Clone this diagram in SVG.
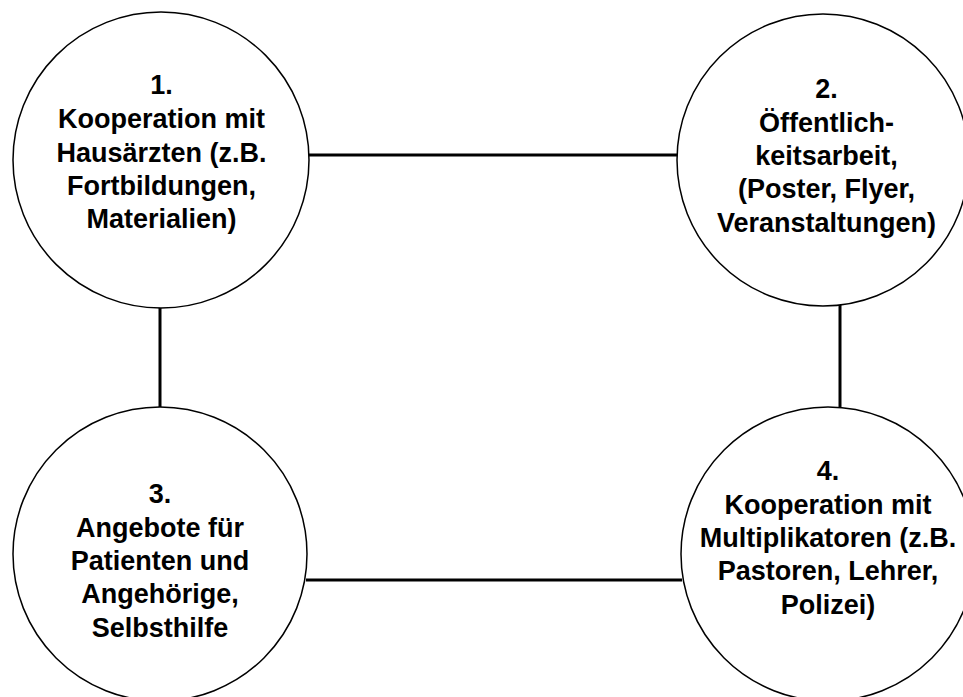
<svg xmlns="http://www.w3.org/2000/svg" width="963" height="697" viewBox="0 0 963 697">
<style>
.node{fill:#fff;stroke:#000;stroke-width:1.5}
.conn{stroke:#000;stroke-width:3;fill:none}
text{font-family:"Liberation Sans",Arial,sans-serif;font-weight:bold;font-size:27px;text-anchor:middle;fill:#000}
</style>
<rect width="963" height="697" fill="#fff"/>
<g id="connectors">
<line class="conn" x1="309" y1="155" x2="679" y2="155"/>
<line class="conn" x1="160" y1="307" x2="160" y2="408"/>
<line class="conn" x1="840" y1="305" x2="840" y2="408"/>
<line class="conn" x1="306" y1="580" x2="682" y2="580"/>
</g>
<g id="node1">
<circle class="node" cx="161" cy="160" r="148"/>
<text x="161.5" y="94">1.</text>
<text x="161.5" y="128">Kooperation mit</text>
<text x="161.5" y="161.5">Hausärzten (z.B.</text>
<text x="161.5" y="195">Fortbildungen,</text>
<text x="161.5" y="228">Materialien)</text>
</g>
<g id="node2">
<circle class="node" cx="823" cy="160" r="146"/>
<text x="826.5" y="98">2.</text>
<text x="826.5" y="131.5">Öffentlich-</text>
<text x="826.5" y="165">keitsarbeit,</text>
<text x="826.5" y="198">(Poster, Flyer,</text>
<text x="826.5" y="231.5">Veranstaltungen)</text>
</g>
<g id="node3">
<circle class="node" cx="160" cy="554" r="147"/>
<text x="160" y="503">3.</text>
<text x="160" y="536.5">Angebote für</text>
<text x="160" y="570">Patienten und</text>
<text x="160" y="603">Angehörige,</text>
<text x="160" y="636.5">Selbsthilfe</text>
</g>
<g id="node4">
<circle class="node" cx="828" cy="554" r="147"/>
<text x="828" y="480">4.</text>
<text x="828" y="513.5">Kooperation mit</text>
<text x="828" y="547">Multiplikatoren (z.B.</text>
<text x="828" y="580">Pastoren, Lehrer,</text>
<text x="828" y="613.5">Polizei)</text>
</g>
</svg>
